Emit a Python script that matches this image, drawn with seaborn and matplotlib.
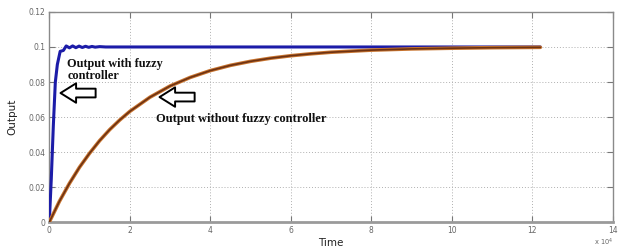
import matplotlib
matplotlib.use("Agg")
import matplotlib.pyplot as plt
import seaborn as sns
import pandas as pd

# Data (time in units of 1e4)
time_fuzzy = [0, 0.05, 0.1, 0.15, 0.2, 0.27, 0.35, 0.42, 0.5, 0.58, 0.66, 0.74,
              0.82, 0.9, 0.98, 1.06, 1.14, 1.25, 1.4, 4.0, 8.0, 12.2]
out_fuzzy = [0, 0.025, 0.055, 0.08, 0.09, 0.0975, 0.098, 0.1006, 0.0995, 0.1006,
             0.0996, 0.1005, 0.0997, 0.1004, 0.0998, 0.1003, 0.0999, 0.1002,
             0.1, 0.1, 0.1, 0.1]

time_plain = [0, 0.25, 0.5, 0.75, 1.0, 1.25, 1.5, 1.75, 2.0, 2.5, 3.0, 3.5, 4.0,
              4.5, 5.0, 5.5, 6.0, 6.5, 7.0, 7.5, 8.0, 9.0, 10.0, 11.0, 12.2]
out_plain = [0, 0.0118, 0.0221, 0.0313, 0.0393, 0.0465, 0.0528, 0.0583, 0.0632,
             0.0713, 0.0777, 0.0826, 0.0865, 0.0895, 0.0918, 0.0936, 0.0950,
             0.0961, 0.0970, 0.0976, 0.0982, 0.0989, 0.0993, 0.0996, 0.0998]

x_ticks = [0, 2, 4, 6, 8, 10, 12, 14]
y_ticks = [0, 0.02, 0.04, 0.06, 0.08, 0.1, 0.12]
y_tick_labels = ["0", "0.02", "0.04", "0.06", "0.08", "0.1", "0.12"]

label_fuzzy = "Output with fuzzy\ncontroller"
label_plain = "Output without fuzzy controller"

sns.set_theme(style="whitegrid")
plt.rcParams["font.family"] = ["DejaVu Sans"]

fig = plt.figure(figsize=(6.24, 2.49), dpi=100)
ax = fig.add_axes([0.079, 0.108, 0.903, 0.844])

df_f = pd.DataFrame({"Time": time_fuzzy, "Output": out_fuzzy})
df_p = pd.DataFrame({"Time": time_plain, "Output": out_plain})

sns.lineplot(data=df_f, x="Time", y="Output", ax=ax, color="#1c1ca8", lw=2.2,
             estimator=None, sort=False, zorder=3)
sns.lineplot(data=df_p, x="Time", y="Output", ax=ax, color="#c8742f", lw=2.6,
             estimator=None, sort=False, zorder=4)
sns.lineplot(data=df_p, x="Time", y="Output", ax=ax, color="#6e3212", lw=1.2,
             estimator=None, sort=False, zorder=5)

ax.set_xlim(0, 14)
ax.set_ylim(0, 0.12)
ax.set_xticks(x_ticks)
ax.set_xticklabels([str(t) for t in x_ticks])
ax.set_yticks(y_ticks)
ax.set_yticklabels(y_tick_labels)

ax.grid(True, linestyle=(0, (1, 2)), color="#b0b0b0", lw=0.7)
for s in ax.spines.values():
    s.set_color("#8a8a8a")
    s.set_linewidth(1.0)
ax.spines["bottom"].set_linewidth(2.0)
ax.spines["bottom"].set_color("#9a9a9a")

ax.tick_params(axis="both", direction="in", length=4, width=0.8, color="#777777",
               labelsize=5.5, labelcolor="#666666", top=True, right=True,
               bottom=True, left=True, pad=3)

ax.set_xlabel("Time", fontsize=7.5, color="#222222", labelpad=2)
ax.set_ylabel("Output", fontsize=7.5, color="#222222", labelpad=8)
ax.text(1.0, -0.095, r"x 10$^4$", transform=ax.transAxes, fontsize=4.8,
        color="#666666", ha="right", va="center")

ax.text(0.45, 0.0868, label_fuzzy, fontsize=8.8, fontweight="bold",
        family="Liberation Serif", color="#111111", va="center", ha="left",
        linespacing=1.0, zorder=6)
ax.text(2.65, 0.0590, label_plain, fontsize=9.0, fontweight="bold",
        family="Liberation Serif", color="#111111", va="center", ha="left",
        zorder=6)

arrow_props = dict(arrowstyle="simple,head_length=0.8,head_width=1.0,tail_width=0.45",
                   fc="white", ec="black", lw=1.4, mutation_scale=14)
ax.annotate("", xy=(0.21, 0.0737), xytext=(1.22, 0.0737),
            arrowprops=arrow_props, zorder=7)
ax.annotate("", xy=(2.67, 0.0714), xytext=(3.68, 0.0714),
            arrowprops=arrow_props, zorder=7)

fig.savefig("out.png", dpi=100)
